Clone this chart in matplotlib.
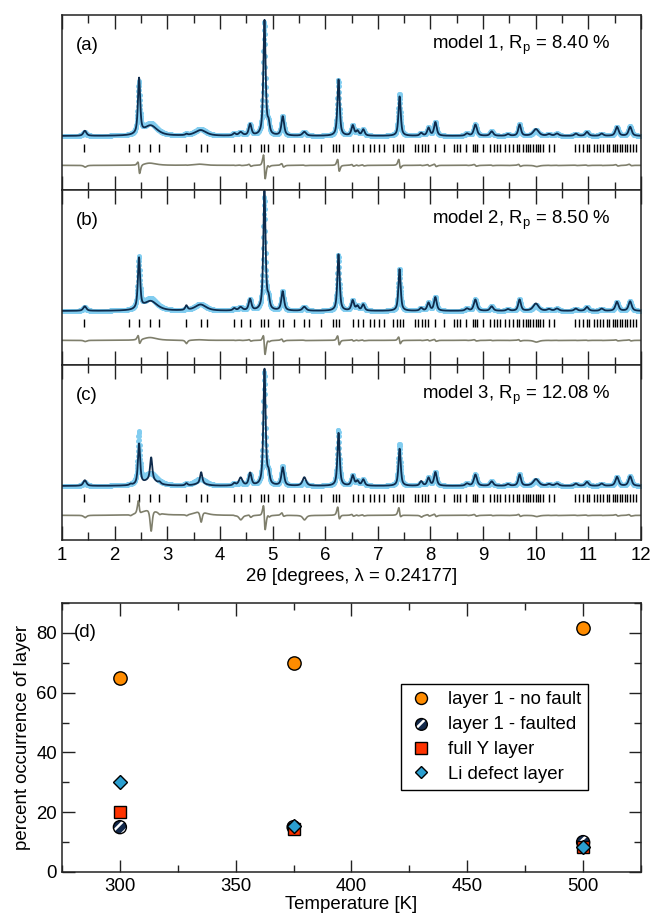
import numpy as np
import matplotlib
matplotlib.use('Agg')
import matplotlib.pyplot as plt
from matplotlib.ticker import MultipleLocator
from matplotlib.legend_handler import HandlerTuple

plt.rcParams['font.family'] = ['Liberation Sans', 'DejaVu Sans']
plt.rcParams['mathtext.fontset'] = 'custom'
plt.rcParams['mathtext.rm'] = 'Liberation Sans'
plt.rcParams['mathtext.it'] = 'Liberation Sans:italic'
plt.rcParams['hatch.linewidth'] = 1.8

FS = 13.4

peak_pos = [1.43, 2.46, 2.68, 3.36, 3.63, 4.27, 4.39, 4.57, 4.843, 4.92, 5.19, 5.60,
            6.25, 6.52, 6.61, 6.72, 7.41, 7.82, 7.96, 8.09, 8.69, 8.85, 9.16, 9.47,
            9.69, 10.00, 10.25, 10.40, 10.76, 10.97, 11.25, 11.54, 11.79]
peak_fwhm = [0.07, 0.05, 0.30, 0.05, 0.25, 0.06, 0.08, 0.06, 0.05, 0.05, 0.06, 0.08,
             0.05, 0.06, 0.06, 0.06, 0.05, 0.06, 0.06, 0.06, 0.07, 0.07, 0.07, 0.07,
             0.06, 0.12, 0.08, 0.08, 0.07, 0.07, 0.07, 0.07, 0.07]
obs_height = [0.03, 0.45, 0.11, 0.01, 0.06, 0.02, 0.03, 0.10, 1.00, 0.09, 0.17, 0.035,
              0.50, 0.09, 0.04, 0.055, 0.37, 0.025, 0.07, 0.12, 0.02, 0.10, 0.04, 0.015,
              0.10, 0.05, 0.015, 0.02, 0.02, 0.035, 0.02, 0.08, 0.085]
# calculated heights for the three models
calc_height_1 = [0.045, 0.49, 0.09, 0.01, 0.05, 0.02, 0.03, 0.10, 1.02, 0.09, 0.17, 0.035,
                 0.50, 0.09, 0.04, 0.055, 0.35, 0.025, 0.07, 0.12, 0.02, 0.10, 0.04, 0.015,
                 0.10, 0.06, 0.015, 0.02, 0.02, 0.035, 0.02, 0.08, 0.08]
calc_height_2 = [0.04, 0.45, 0.085, 0.04, 0.055, 0.02, 0.03, 0.10, 1.06, 0.09, 0.17, 0.035,
                 0.50, 0.09, 0.04, 0.055, 0.37, 0.025, 0.07, 0.12, 0.02, 0.10, 0.04, 0.015,
                 0.10, 0.065, 0.015, 0.02, 0.02, 0.035, 0.02, 0.08, 0.085]
calc_height_3 = [0.05, 0.36, 0.05, 0.02, 0.02, 0.02, 0.07, 0.11, 1.03, 0.09, 0.16, 0.075,
                 0.47, 0.09, 0.04, 0.055, 0.33, 0.04, 0.07, 0.12, 0.02, 0.10, 0.04, 0.015,
                 0.10, 0.06, 0.015, 0.02, 0.02, 0.035, 0.02, 0.08, 0.085]
extra_pos_3 = [2.30, 2.69, 2.85, 3.64]
extra_height_3 = [0.01, 0.20, 0.015, 0.10]
calc_shift = [0.004, 0.003, 0.004]
labels_abc = ['(a)', '(b)', '(c)']
rp_values = ['8.40', '8.50', '12.08']

reflections = [1.42, 2.27, 2.46, 2.68, 2.85, 3.36, 3.64, 3.76, 4.27, 4.40, 4.57, 4.79,
               4.84, 4.92, 5.12, 5.19, 5.40, 5.60, 5.69, 5.92, 6.14, 6.20, 6.26, 6.53,
               6.62, 6.71, 6.86, 6.93, 7.03, 7.12, 7.29, 7.36, 7.42, 7.48, 7.71, 7.77,
               7.83, 7.90, 7.96, 8.09, 8.25, 8.45, 8.51, 8.57, 8.68, 8.80, 8.85, 8.89,
               9.00, 9.14, 9.21, 9.26, 9.32, 9.42, 9.49, 9.56, 9.64, 9.69, 9.76, 9.81,
               9.86, 9.90, 9.95, 10.01, 10.05, 10.09, 10.14, 10.26, 10.35, 10.75, 10.83,
               10.90, 10.97, 11.02, 11.11, 11.16, 11.23, 11.28, 11.35, 11.40, 11.46,
               11.51, 11.55, 11.60, 11.64, 11.70, 11.74, 11.79, 11.84, 11.90]

# panel (d)
temps = [300, 375, 500]
no_fault = [65, 70, 81.5]
faulted = [15, 15, 10]
full_y = [20, 14.5, 8.5]
li_defect = [30, 15.5, 8.5]


def pattern(x, pos, hgt, fwhm, shift=0.0):
    y = np.zeros_like(x)
    for p, h, w in zip(pos, hgt, fwhm):
        d = (x - p - shift) / w
        y += h * (0.7 / (1 + 4 * d ** 2) + 0.3 * np.exp(-4 * np.log(2) * d ** 2))
    return y


tt = np.arange(1.0, 12.0001, 0.004)
obs = pattern(tt, peak_pos, obs_height, peak_fwhm)
calcs = [pattern(tt, peak_pos, calc_height_1, peak_fwhm, calc_shift[0]),
         pattern(tt, peak_pos, calc_height_2, peak_fwhm, calc_shift[1]),
         pattern(tt, peak_pos, calc_height_3, peak_fwhm, calc_shift[2])
         + pattern(tt, extra_pos_3, extra_height_3, [0.05] * len(extra_pos_3), calc_shift[2])]

W, H = 651, 915
fig = plt.figure(figsize=(W / 100, H / 100), dpi=100)
spine_c = '#222222'

tops = [15, 190, 365]
for i in range(3):
    ax = fig.add_axes([62 / W, (H - tops[i] - 175) / H, 579 / W, 175 / H])
    ax.plot(tt, obs, 'o', ms=3.6, mew=0, color='#82cdf0', zorder=1)
    ax.plot(tt, calcs[i], '-', lw=1.3, color='#0e2b4c', zorder=2)
    ax.vlines(reflections, -0.14, -0.07, color='black', lw=1.0)
    ax.plot(tt, obs - calcs[i] - 0.26, '-', lw=1.2, color='#7f7f6c')
    ax.set_xlim(1, 12)
    ax.set_ylim(-0.478, 1.07)
    ax.xaxis.set_major_locator(MultipleLocator(1))
    ax.xaxis.set_minor_locator(MultipleLocator(0.5))
    ax.tick_params(axis='x', which='both', direction='in', top=True, bottom=True,
                   width=1.0, color=spine_c, labelsize=FS, pad=5)
    ax.tick_params(axis='x', which='major', length=10)
    ax.tick_params(axis='x', which='minor', length=5.5)
    ax.tick_params(axis='y', left=False, labelleft=False)
    for s in ax.spines.values():
        s.set_linewidth(1.1)
        s.set_color(spine_c)
    if i < 2:
        ax.tick_params(axis='x', labelbottom=False)
    else:
        ax.set_xlabel('2θ [degrees, λ = 0.24177]', fontsize=FS, labelpad=3)
    ax.text(1.26, 0.80, labels_abc[i], fontsize=FS, ha='left', va='center')
    ax.text(11.42, 0.80, 'model %d, R$_\\mathrm{p}$ = %s %%' % (i + 1, rp_values[i]),
            fontsize=FS, ha='right', va='center')

# panel (d)
axd = fig.add_axes([62 / W, (H - 872) / H, 579 / W, 269 / H])
h1, = axd.plot(temps, no_fault, 'o', ms=9.6, mfc='#ff8c00', mec='black', mew=1.0,
               ls='none', zorder=3)
h2a = axd.scatter(temps, faulted, s=88, marker='o', facecolor='#13294b',
                  edgecolor='white', hatch='///', linewidths=0, zorder=4)
h2b = axd.scatter(temps, faulted, s=88, marker='o', facecolor='none',
                  edgecolor='black', linewidths=1.0, zorder=4)
h3, = axd.plot(temps, full_y, 's', ms=9.0, mfc='#ff3300', mec='black', mew=1.0,
               ls='none', zorder=5)
h4, = axd.plot(temps, li_defect, 'D', ms=6.8, mfc='#2b9fd0', mec='black', mew=1.0,
               ls='none', zorder=6)
axd.set_xlim(275, 525)
axd.set_ylim(0, 90)
axd.xaxis.set_major_locator(MultipleLocator(50))
axd.xaxis.set_minor_locator(MultipleLocator(25))
axd.yaxis.set_major_locator(MultipleLocator(20))
axd.yaxis.set_minor_locator(MultipleLocator(10))
axd.tick_params(which='both', direction='in', top=True, right=True, width=1.0,
                color=spine_c, labelsize=FS)
axd.tick_params(which='major', length=9)
axd.tick_params(which='minor', length=5)
axd.tick_params(axis='x', pad=4)
for s in axd.spines.values():
    s.set_linewidth(1.1)
    s.set_color(spine_c)
axd.set_xlabel('Temperature [K]', fontsize=FS, labelpad=1)
axd.set_ylabel('percent occurrence of layer', fontsize=FS, labelpad=4)
axd.text(280, 80, '(d)', fontsize=FS, ha='left', va='center')

leg = axd.legend([h1, (h2a, h2b), h3, h4],
                 ['layer 1 - no fault', 'layer 1 - faulted', 'full Y layer', 'Li defect layer'],
                 handler_map={tuple: HandlerTuple(ndivide=1)},
                 loc='upper left', bbox_to_anchor=(0.5855, 0.699), borderaxespad=0,
                 fontsize=FS, frameon=True, fancybox=False, framealpha=1,
                 edgecolor='black', markerscale=0.9, handlelength=1.4,
                 handletextpad=0.7, labelspacing=0.42, borderpad=0.4)
leg.get_frame().set_linewidth(1.0)

fig.savefig('out.png', dpi=100)
